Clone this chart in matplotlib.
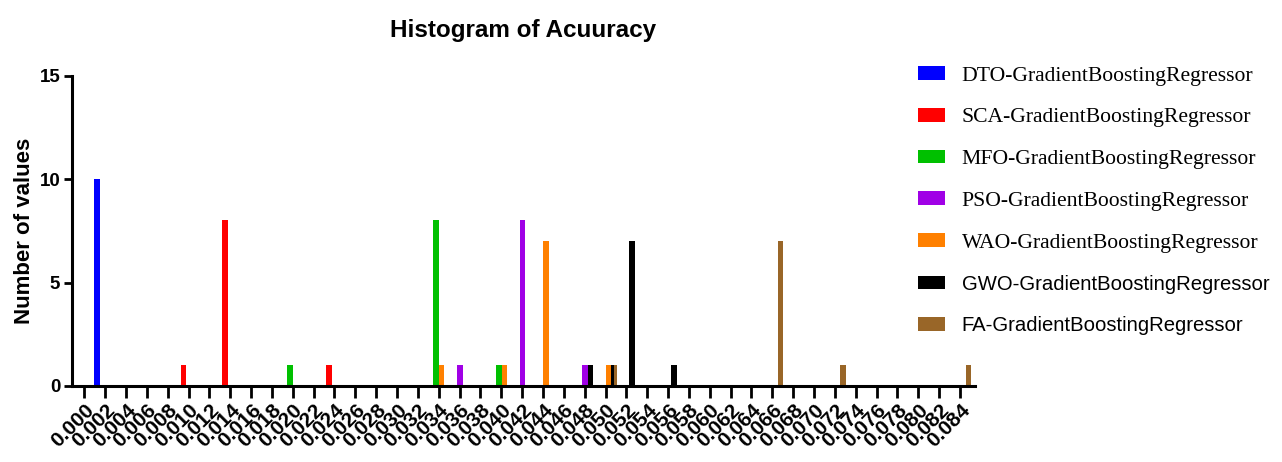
import matplotlib
matplotlib.use('Agg')
import matplotlib.pyplot as plt
from matplotlib.patches import Patch
import numpy as np

plt.rcParams['font.family'] = ['Liberation Sans', 'DejaVu Sans']

# bin centres on the x axis (0.000 ... 0.084, step 0.002)
bin_step = 0.002
bin_labels = ['%.3f' % (bin_step * i) for i in range(43)]

names = ['DTO-GradientBoostingRegressor', 'SCA-GradientBoostingRegressor',
         'MFO-GradientBoostingRegressor', 'PSO-GradientBoostingRegressor',
         'WAO-GradientBoostingRegressor', 'GWO-GradientBoostingRegressor',
         'FA-GradientBoostingRegressor']
colors = ['#0000FF', '#FF0000', '#00C000', '#A000E6', '#FF8000', '#000000', '#996628']

# counts per bin for each data set
dto_bins = [0.002]
dto_counts = [10]
sca_bins = [0.010, 0.014, 0.024]
sca_counts = [1, 8, 1]
mfo_bins = [0.020, 0.034, 0.040]
mfo_counts = [1, 8, 1]
pso_bins = [0.036, 0.042, 0.048]
pso_counts = [1, 8, 1]
wao_bins = [0.034, 0.040, 0.044, 0.050]
wao_counts = [1, 1, 7, 1]
gwo_bins = [0.048, 0.050, 0.052, 0.056]
gwo_counts = [1, 1, 7, 1]
fa_bins = [0.050, 0.066, 0.072, 0.084]
fa_counts = [1, 7, 1, 1]

all_bins = [dto_bins, sca_bins, mfo_bins, pso_bins, wao_bins, gwo_bins, fa_bins]
all_counts = [dto_counts, sca_counts, mfo_counts, pso_counts, wao_counts, gwo_counts, fa_counts]

fig = plt.figure(figsize=(12.82, 4.62), dpi=100)
ax = fig.add_axes([72/1282, 1 - 386/462, (975-72)/1282, (386-75.5)/462])

bar_w = 0.27
for k in range(len(names)):
    idx = np.round(np.array(all_bins[k]) / bin_step)
    off = -0.38 + 0.13 * k
    ax.bar(idx + off, all_counts[k], width=bar_w, color=colors[k],
           zorder=10 - k, linewidth=0)

ax.set_xlim(-0.59, 42.72)
ax.set_ylim(0, 15)
ax.set_xticks(np.arange(len(bin_labels)))
ax.set_xticklabels(bin_labels, rotation=45, ha='right', rotation_mode='anchor',
                   fontsize=15, fontweight='bold')
ax.set_yticks([0, 5, 10, 15])
ax.set_yticklabels(['0', '5', '10', '15'], fontsize=13.5, fontweight='bold')
ax.tick_params(axis='x', length=8.6, width=2.0, pad=2)
ax.tick_params(axis='y', length=5.5, width=2.0, pad=3)
for s in ['top', 'right']:
    ax.spines[s].set_visible(False)
for s in ['left', 'bottom']:
    ax.spines[s].set_linewidth(2.2)
    ax.spines[s].set_zorder(20)

ax.set_ylabel('Number of values', fontsize=16, fontweight='bold', labelpad=3)
ax.set_title('Histogram of Acuuracy', fontsize=17.5, fontweight='bold', pad=28)

handles = [Patch(facecolor=c, edgecolor='none') for c in colors]
leg = fig.legend(handles, names, loc='upper left', bbox_to_anchor=(918/1282, 1 - 66/462),
                 frameon=False, borderpad=0, borderaxespad=0, handlelength=1.24,
                 handleheight=0.6, handletextpad=0.78, labelspacing=1.03,
                 prop={'family': 'Liberation Serif', 'size': 15.6})
for t in leg.get_texts()[5:]:
    t.set_fontfamily('Liberation Sans')
    t.set_fontsize(14.6)

fig.savefig('out.png', dpi=100)
